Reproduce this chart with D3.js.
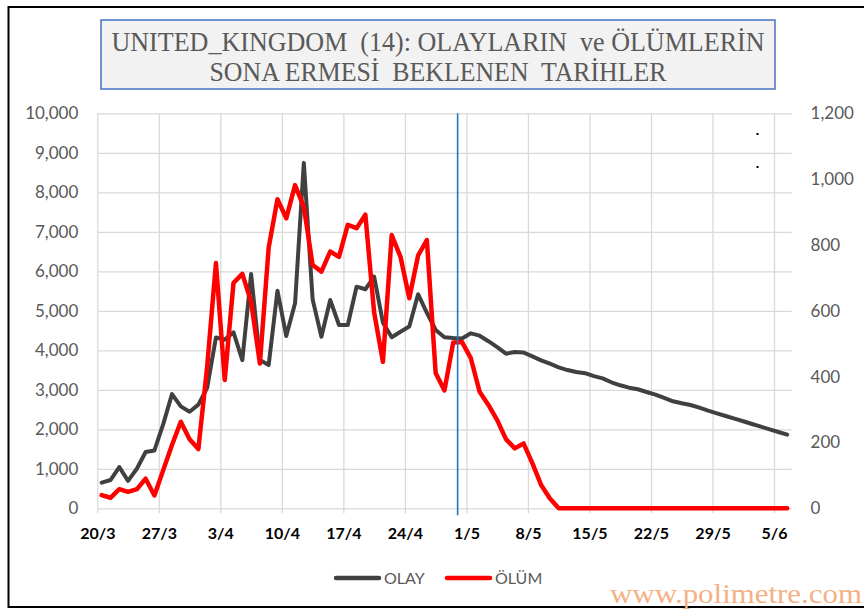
<!DOCTYPE html>
<html>
<head>
<meta charset="utf-8">
<script src="https://cdn.jsdelivr.net/npm/d3@7"></script>
<style>
    body { margin: 0; background: #fff; }
    svg { display: block; font-family: Lato, 'Open Sans', sans-serif; }
</style>
</head>
<body>
<div id="chart"></div>
<script>
// daily values, first day 20/3/2020
const startDate = '2020-03-20';
const olay = [
    648, 716, 1045, 695, 1000, 1425, 1465, 2130, 2890, 2580,
    2445, 2625, 3050, 4325, 4270, 4455, 3750, 5930, 3755, 3630,
    5510, 4360, 5190, 8745, 5290, 4345, 5275, 4640, 4640, 5610,
    5545, 5865, 4700, 4330, 4470, 4600, 5420, 4950, 4515, 4330,
    4310, 4300, 4430, 4370, 4230, 4080, 3915, 3955, 3945, 3845,
    3745, 3660, 3570, 3500, 3450, 3420, 3345, 3290, 3190, 3114,
    3054, 3013, 2945, 2877, 2793, 2709, 2659, 2616, 2547, 2471,
    2405, 2337, 2269, 2203, 2134, 2066, 2000, 1932, 1864
];
const olum = [
    40, 32, 58, 50, 58, 90, 39, 116, 192, 263,
    210, 180, 430, 745, 390, 685, 712, 628, 440, 792,
    939, 881, 982, 916, 739, 719, 780, 764, 861, 851,
    892, 595, 445, 830, 764, 638, 768, 815, 411, 358,
    504, 505, 456, 354, 314, 268, 210, 182, 197, 137,
    71, 30, 0, 0, 0, 0, 0, 0, 0, 0,
    0, 0, 0, 0, 0, 0, 0, 0, 0, 0,
    0, 0, 0, 0, 0, 0, 0, 0, 0
];
const xTickLabels = ['20/3', '27/3', '3/4', '10/4', '17/4', '24/4', '1/5', '8/5', '15/5', '22/5', '29/5', '5/6'];
const xTickDates = ['2020-03-20', '2020-03-27', '2020-04-03', '2020-04-10', '2020-04-17', '2020-04-24',
    '2020-05-01', '2020-05-08', '2020-05-15', '2020-05-22', '2020-05-29', '2020-06-05'];
const leftTicks = [0, 1000, 2000, 3000, 4000, 5000, 6000, 7000, 8000, 9000, 10000];
const rightTicks = [0, 200, 400, 600, 800, 1000, 1200];
const markerDate = '2020-04-30';
const titleLines = ['UNITED_KINGDOM  (14): OLAYLARIN  ve ÖLÜMLERİN', 'SONA ERMESİ  BEKLENEN  TARİHLER'];
const seriesNames = ['OLAY', 'ÖLÜM'];

const WIDTH = 864;
const HEIGHT = 612;
const plot = { left: 97.3, right: 791.6, top: 113.3, bottom: 508.3 };
const GRID = '#d9d9d9';
const TEXT = '#595959';

const parse = d3.utcParse('%Y-%m-%d');
const day0 = parse(startDate);

const svg = d3.select('#chart').append('svg')
    .attr('width', WIDTH).attr('height', HEIGHT);

// outer frame
svg.append('rect')
    .attr('x', 8.5).attr('y', 7).attr('width', 880).attr('height', 600)
    .attr('fill', '#fff').attr('stroke', '#000').attr('stroke-width', 2);

const x = d3.scaleUtc()
    .domain([day0, d3.utcDay.offset(day0, olay.length)])
    .range([plot.left, plot.right]);
const yL = d3.scaleLinear().domain([0, 10000]).range([plot.bottom, plot.top]);
const yR = d3.scaleLinear().domain([0, 1200]).range([plot.bottom, plot.top]);

// points sit in the middle of each day
const xAt = (i) => x(d3.utcHour.offset(d3.utcDay.offset(day0, i), 12));

// horizontal grid
svg.append('g')
    .attr('transform', 'translate(' + plot.left + ',0)')
    .call(d3.axisLeft(yL).tickValues(leftTicks).tickSize(-(plot.right - plot.left)).tickFormat(''))
    .call(g => g.select('.domain').remove())
    .call(g => g.selectAll('line').attr('stroke', GRID).attr('stroke-width', 1.3));

// vertical grid + x axis
const tickDates = xTickDates.map(parse);
svg.append('g')
    .attr('transform', 'translate(0,' + plot.bottom + ')')
    .call(d3.axisBottom(x).tickValues(tickDates).tickSize(5).tickPadding(14)
        .tickFormat((d, i) => xTickLabels[i]))
    .call(g => g.select('.domain').remove())
    .call(g => g.selectAll('line').attr('stroke', GRID).attr('stroke-width', 1.3)
        .attr('y1', -(plot.bottom - plot.top)))
    .call(g => g.selectAll('text').attr('fill', '#000').attr('font-size', 16)
        .attr('font-weight', 'bold').attr('font-family', 'Lato, sans-serif'));

// left axis labels
svg.append('g')
    .attr('transform', 'translate(' + plot.left + ',0)')
    .call(d3.axisLeft(yL).tickValues(leftTicks).tickSize(0).tickPadding(19).tickFormat(d3.format(',')))
    .call(g => g.select('.domain').remove())
    .call(g => g.selectAll('text').attr('fill', TEXT).attr('font-size', 17).attr('font-family', 'Lato, sans-serif'));

// right axis labels
svg.append('g')
    .attr('transform', 'translate(' + plot.right + ',0)')
    .call(d3.axisRight(yR).tickValues(rightTicks).tickSize(0).tickPadding(19).tickFormat(d3.format(',')))
    .call(g => g.select('.domain').remove())
    .call(g => g.selectAll('text').attr('fill', TEXT).attr('font-size', 17).attr('font-family', 'Lato, sans-serif'));

// series
const lineL = d3.line().x((d, i) => xAt(i)).y((d) => yL(d));
const lineR = d3.line().x((d, i) => xAt(i)).y((d) => yR(d));

svg.append('path')
    .datum(olay)
    .attr('d', lineL)
    .attr('fill', 'none').attr('stroke', '#404040').attr('stroke-width', 4)
    .attr('stroke-linejoin', 'round').attr('stroke-linecap', 'round');

svg.append('path')
    .datum(olum)
    .attr('d', lineR)
    .attr('fill', 'none').attr('stroke', '#ff0000').attr('stroke-width', 4.5)
    .attr('stroke-linejoin', 'round').attr('stroke-linecap', 'round');

// expected end marker
const mx = x(parse(markerDate));
svg.append('line')
    .attr('x1', mx).attr('x2', mx)
    .attr('y1', plot.top).attr('y2', plot.bottom + 7)
    .attr('stroke', '#2176c0').attr('stroke-width', 1.6);

// two stray dots in the upper right
svg.selectAll('rect.dot')
    .data([134, 167])
    .enter().append('rect')
    .attr('class', 'dot')
    .attr('x', 756.5).attr('y', (d) => d - 1)
    .attr('width', 2).attr('height', 2)
    .attr('fill', '#000');

// title box
svg.append('rect')
    .attr('x', 101).attr('y', 20).attr('width', 674).attr('height', 69)
    .attr('fill', '#f2f2f2').attr('stroke', '#4472c4').attr('stroke-width', 1.5);

svg.selectAll('text.title')
    .data(titleLines)
    .enter().append('text')
    .attr('class', 'title')
    .attr('x', 438)
    .attr('y', (d, i) => 51 + i * 30)
    .attr('text-anchor', 'middle')
    .attr('xml:space', 'preserve')
    .style('white-space', 'pre')
    .attr('font-family', "'Liberation Serif', 'Times New Roman', serif")
    .attr('font-size', 27.5)
    .attr('fill', TEXT)
    .attr('textLength', (d, i) => i === 0 ? 653 : 457)
    .attr('lengthAdjust', 'spacingAndGlyphs')
    .text((d) => d);

// legend
const legendX = [336, 447];
const legendColor = ['#404040', '#ff0000'];
const legend = svg.append('g').attr('class', 'legend');
seriesNames.forEach((name, i) => {
    legend.append('line')
        .attr('x1', legendX[i]).attr('x2', legendX[i] + 43)
        .attr('y1', 578).attr('y2', 578)
        .attr('stroke', legendColor[i]).attr('stroke-width', 4.5)
        .attr('stroke-linecap', 'round');
    legend.append('text')
        .attr('x', legendX[i] + 48).attr('y', 578)
        .attr('dy', '0.35em')
        .attr('font-size', 16)
        .attr('fill', TEXT)
        .text(name);
});

// watermark
svg.append('text')
    .attr('x', 610).attr('y', 603)
    .attr('font-family', "'Liberation Serif', 'Times New Roman', serif")
    .attr('font-size', 27)
    .attr('fill', '#f4b183')
    .attr('textLength', 252)
    .attr('lengthAdjust', 'spacingAndGlyphs')
    .text('www.polimetre.com');
</script>
</body>
</html>
